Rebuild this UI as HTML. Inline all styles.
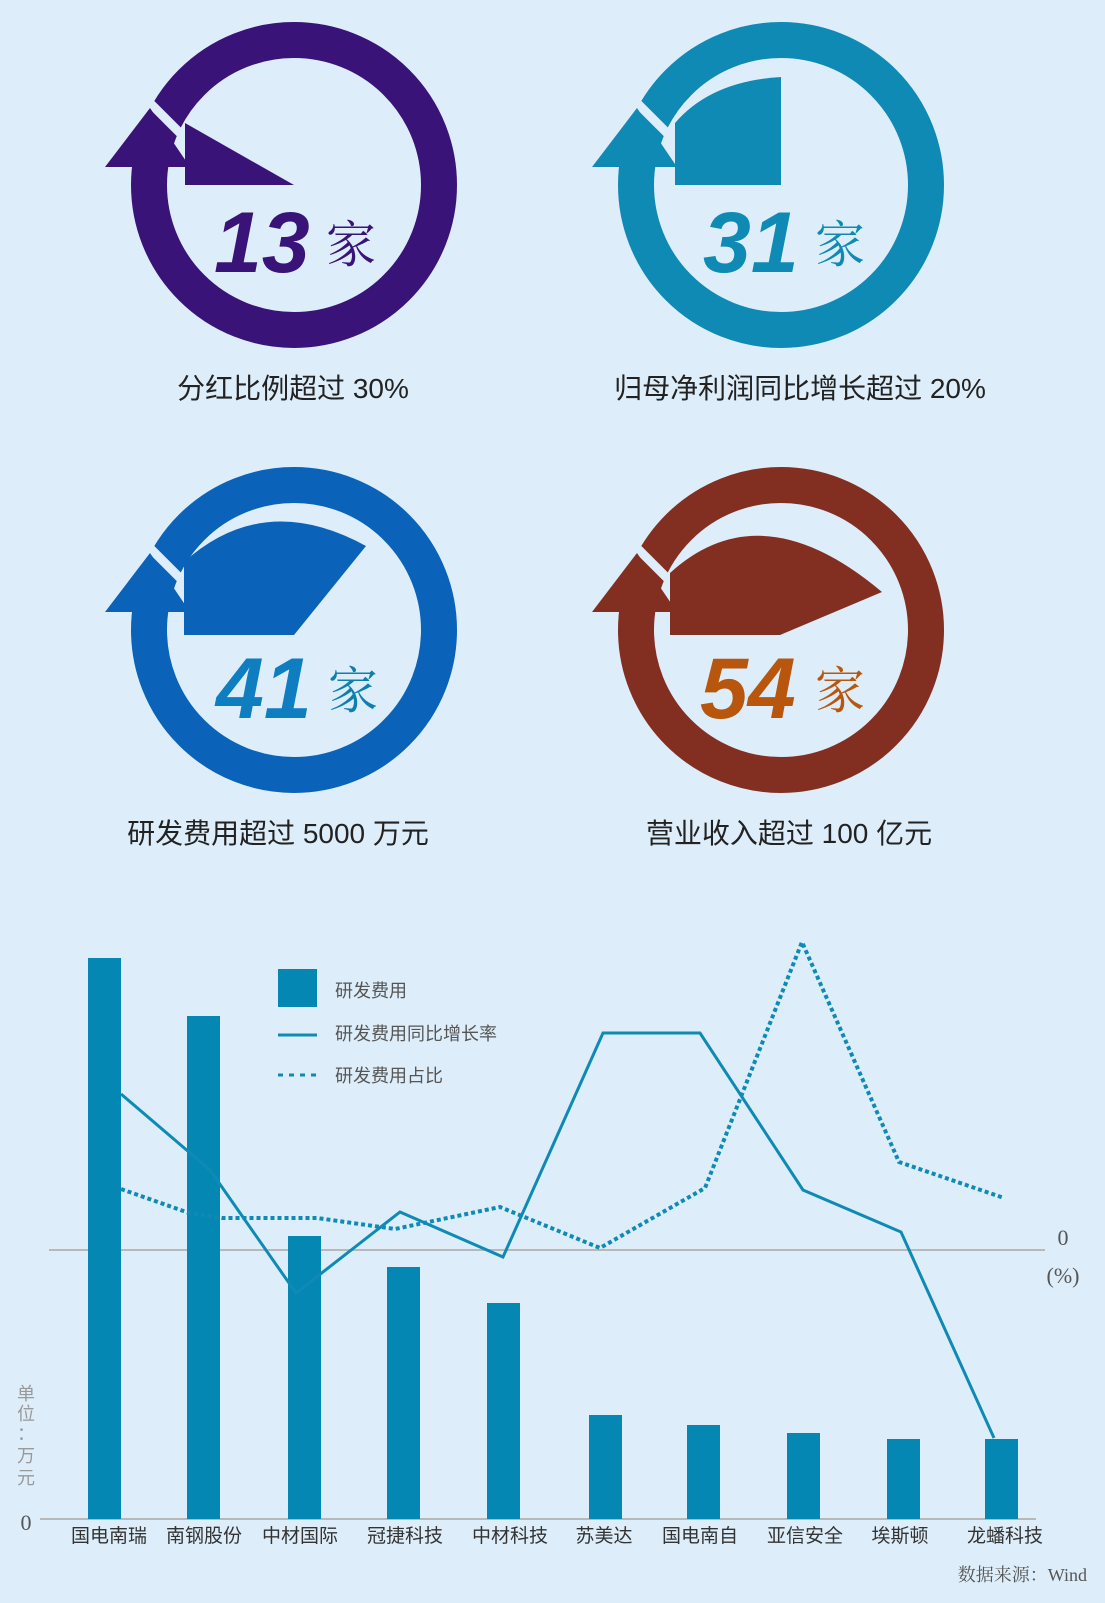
<!DOCTYPE html>
<html><head><meta charset="utf-8"><style>
html,body{margin:0;padding:0;background:#ddeefa;}
svg{display:block}
.cap{font-family:"Liberation Sans","Noto Sans CJK SC",sans-serif;font-size:28px;fill:#222;}
.num{font-family:"Liberation Sans",sans-serif;font-weight:bold;font-style:italic;font-size:86px;}
.jia{font-family:"Noto Serif CJK SC","Liberation Serif",serif;font-size:50px;}
.lbl{font-family:"Liberation Sans","Noto Sans CJK SC",sans-serif;font-size:19px;fill:#333;}
.leg{font-family:"Liberation Sans","Noto Sans CJK SC",sans-serif;font-size:18px;fill:#555;}
.ser{font-family:"Liberation Serif","Noto Serif CJK SC",serif;fill:#555;}
</style></head><body>
<svg width="1105" height="1603" viewBox="0 0 1105 1603" xmlns="http://www.w3.org/2000/svg">
<rect width="1105" height="1603" fill="#ddeefa"/>
<defs>
<g id="ringbase">
<circle cx="0" cy="0" r="145" fill="none" stroke-width="36"/>
</g>
</defs>

<!-- circle 1 -->
<g transform="translate(294,185)" fill="#3a1378" stroke="#3a1378">
<circle r="145" fill="none" stroke-width="36"/>
<line x1="-158" y1="-96" x2="-108" y2="-46" stroke="#ddeefa" stroke-width="9"/>
<polygon points="-189,-18 -144,-77 -104,-18" stroke="none"/>
<polygon points="-109,-62 0,0 -109,0" stroke="none"/>
</g>
<text class="num" x="214" y="272" fill="#3a1378">13</text>
<text class="jia" x="326" y="262" fill="#3a1378">家</text>
<text class="cap" x="293" y="398" text-anchor="middle">分红比例超过 30%</text>

<!-- circle 2 -->
<g transform="translate(781,185)" fill="#0f8ab4" stroke="#0f8ab4">
<circle r="145" fill="none" stroke-width="36"/>
<line x1="-158" y1="-96" x2="-108" y2="-46" stroke="#ddeefa" stroke-width="9"/>
<polygon points="-189,-18 -144,-77 -104,-18" stroke="none"/>
<path d="M0,0 L0,-108 Q-70,-104 -106,-62 L-106,0 Z" stroke="none"/>
</g>
<text class="num" x="703" y="272" fill="#0f8ab4">31</text>
<text class="jia" x="815" y="262" fill="#0f8ab4">家</text>
<text class="cap" x="800" y="398" text-anchor="middle">归母净利润同比增长超过 20%</text>

<!-- circle 3 -->
<g transform="translate(294,630)" fill="#0a63b8" stroke="#0a63b8">
<circle r="145" fill="none" stroke-width="36"/>
<line x1="-158" y1="-96" x2="-108" y2="-46" stroke="#ddeefa" stroke-width="9"/>
<polygon points="-189,-18 -144,-77 -104,-18" stroke="none"/>
<path d="M0,5 L-110,5 L-110,-68 Q-30,-140 72,-84 Z" stroke="none"/>
</g>
<text class="num" x="216" y="718" fill="#0e7ec0">41</text>
<text class="jia" x="328" y="708" fill="#0e80b0">家</text>
<text class="cap" x="278" y="843" text-anchor="middle">研发费用超过 5000 万元</text>

<!-- circle 4 -->
<g transform="translate(781,630)" fill="#822f22" stroke="#822f22">
<circle r="145" fill="none" stroke-width="36"/>
<line x1="-158" y1="-96" x2="-108" y2="-46" stroke="#ddeefa" stroke-width="9"/>
<polygon points="-189,-18 -144,-77 -104,-18" stroke="none"/>
<path d="M-1,5 L-111,5 L-111,-57 Q-20,-140 101,-38 Z" stroke="none"/>
</g>
<text class="num" x="700" y="718" fill="#b8560e">54</text>
<text class="jia" x="815" y="708" fill="#b8560e">家</text>
<text class="cap" x="789" y="843" text-anchor="middle">营业收入超过 100 亿元</text>

<!-- chart -->
<line x1="49" y1="1250" x2="1045" y2="1250" stroke="#b8b8b8" stroke-width="2"/>
<line x1="40" y1="1519" x2="1036" y2="1519" stroke="#b8b8b8" stroke-width="2"/>
<g fill="#0587b3">
<rect x="88" y="958" width="33" height="561"/>
<rect x="187" y="1016" width="33" height="503"/>
<rect x="288" y="1236" width="33" height="283"/>
<rect x="387" y="1267" width="33" height="252"/>
<rect x="487" y="1303" width="33" height="216"/>
<rect x="589" y="1415" width="33" height="104"/>
<rect x="687" y="1425" width="33" height="94"/>
<rect x="787" y="1433" width="33" height="86"/>
<rect x="887" y="1439" width="33" height="80"/>
<rect x="985" y="1439" width="33" height="80"/>
</g>
<polyline fill="none" stroke="#0f8ab4" stroke-width="3" points="121,1094 210,1170 296,1293 400,1212 503,1257 603,1033 700,1033 803,1190 901,1232 994,1438"/>
<polyline fill="none" stroke="#0f8ab4" stroke-width="4" stroke-dasharray="4,3" points="121,1189 189,1213 222,1218 317,1218 395,1229 500,1207 600,1248 705,1188 802,942 899,1162 1004,1198"/>

<rect x="278" y="969" width="39" height="38" fill="#0587b3"/>
<text class="leg" x="335" y="997">研发费用</text>
<line x1="278" y1="1035" x2="317" y2="1035" stroke="#0f8ab4" stroke-width="3"/>
<text class="leg" x="335" y="1040">研发费用同比增长率</text>
<line x1="278" y1="1075" x2="317" y2="1075" stroke="#0f8ab4" stroke-width="3" stroke-dasharray="5,6"/>
<text class="leg" x="335" y="1082">研发费用占比</text>

<text class="ser" x="1063" y="1245" font-size="22" text-anchor="middle">0</text>
<text class="ser" x="1063" y="1283" font-size="22" text-anchor="middle">(%)</text>
<text class="ser" x="26" y="1530" font-size="22" text-anchor="middle">0</text>
<g class="leg" font-size="18" fill="#888" text-anchor="middle">
<text x="26" y="1400" fill="#999">单</text>
<text x="26" y="1420" fill="#999">位</text>
<text x="26" y="1440" fill="#999">：</text>
<text x="26" y="1462" fill="#999">万</text>
<text x="26" y="1484" fill="#999">元</text>
</g>
<g class="lbl" text-anchor="middle">
<text x="109" y="1542">国电南瑞</text>
<text x="204" y="1542">南钢股份</text>
<text x="300" y="1542">中材国际</text>
<text x="405" y="1542">冠捷科技</text>
<text x="510" y="1542">中材科技</text>
<text x="604" y="1542">苏美达</text>
<text x="700" y="1542">国电南自</text>
<text x="805" y="1542">亚信安全</text>
<text x="900" y="1542">埃斯顿</text>
<text x="1005" y="1542">龙蟠科技</text>
</g>
<text class="ser" x="1087" y="1581" font-size="18" text-anchor="end">数据来源：Wind</text>
</svg>
</body></html>
